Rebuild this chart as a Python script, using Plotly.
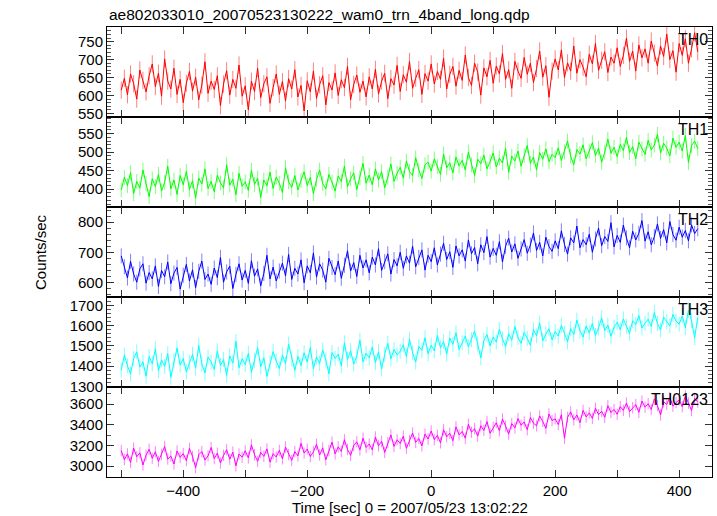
import plotly.graph_objects as go
from plotly.subplots import make_subplots

# ---- data (counts/sec, 5 s bins starting at t = -500 s) ----
t_start = -500
t_step = 5

th0 = [615, 648, 602, 660, 633, 590, 671, 642, 610, 655,
       688, 625, 662, 598, 702, 640, 618, 676, 603, 645,
       580, 634, 667, 612, 651, 588, 629, 694, 606, 640,
       617, 655, 572, 632, 669, 601, 645, 620, 685, 598,
       627, 560, 640, 611, 676, 594, 633, 652, 578, 622,
       660, 603, 639, 585, 647, 618, 672, 596, 628, 557,
       641, 610, 668, 592, 630, 655, 574, 636, 615, 663,
       600, 644, 622, 681, 588, 631, 657, 609, 640, 596,
       652, 618, 673, 604, 640, 662, 591, 647, 629, 684,
       611, 658, 637, 695, 620, 648, 672, 603, 661, 640,
       688, 632, 667, 645, 704, 618, 659, 681, 626, 670,
       642, 713, 650, 628, 690, 665, 601, 677, 652, 698,
       634, 682, 660, 717, 645, 672, 620, 695, 668, 648,
       706, 659, 690, 636, 675, 724, 651, 683, 595, 668,
       702, 671, 727, 650, 691, 668, 738, 662, 700, 679,
       652, 715, 688, 745, 670, 698, 722, 664, 707, 690,
       733, 681, 712, 760, 695, 724, 668, 741, 705, 730,
       690, 752, 718, 682, 738, 709, 771, 700, 725, 665,
       745, 712, 758, 690, 730, 775, 722]

th1 = [398, 432, 410, 445, 388, 421, 403, 452, 415, 380,
       428, 407, 440, 395, 419, 462, 401, 425, 386, 437,
       412, 448, 399, 423, 376, 430, 414, 455, 402, 421,
       393, 438, 417, 404, 466, 411, 427, 385, 443, 408,
       420, 397, 451, 413, 430, 378, 425, 409, 446, 402,
       433, 416, 391, 458, 420, 405, 437, 398, 424, 447,
       410, 432, 388, 426, 452, 415, 401, 440, 419, 395,
       436, 421, 462, 407, 428, 444, 399, 431, 470, 416,
       438, 412, 455, 425, 447, 404, 432, 468, 421, 443,
       459, 430, 476, 448, 437, 485, 452, 429, 466, 473,
       449, 482, 461, 440, 495, 458, 471, 444, 487, 463,
       478, 452, 500, 466, 437, 481, 469, 492, 455, 474,
       498, 460, 484, 471, 510, 446, 489, 476, 503, 462,
       491, 518, 470, 487, 452, 499, 481, 509, 474, 494,
       485, 512, 477, 501, 530, 489, 466, 507, 495, 520,
       482, 503, 526, 491, 511, 473, 500, 535, 497, 513,
       488, 521, 504, 540, 499, 515, 482, 527, 509, 494,
       532, 506, 519, 548, 498, 524, 511, 490, 538, 513,
       527, 503, 545, 472, 518, 530, 510]

th2 = [688, 652, 615, 670, 628, 601, 645, 662, 598, 633,
       612, 655, 587, 640, 619, 668, 596, 631, 650, 578,
       624, 660, 605, 642, 583, 637, 671, 610, 628, 594,
       648, 616, 683, 601, 635, 654, 580, 627, 662, 608,
       640, 597, 672, 621, 645, 589, 630, 690, 612, 651,
       605, 638, 664, 622, 693, 610, 647, 628, 675, 599,
       655, 632, 698, 618, 662, 641, 601, 680, 650, 626,
       671, 614, 657, 705, 638, 666, 620, 690, 648, 675,
       632, 684, 658, 712, 640, 669, 695, 628, 676, 655,
       700, 647, 688, 664, 720, 652, 683, 708, 641, 690,
       669, 715, 658, 694, 730, 676, 702, 650, 721, 688,
       708, 671, 741, 695, 716, 662, 725, 699, 752, 684,
       713, 690, 735, 668, 720, 747, 701, 728, 680, 711,
       742, 697, 724, 764, 706, 733, 688, 750, 719, 703,
       738, 712, 771, 726, 694, 748, 731, 787, 715, 742,
       725, 760, 700, 744, 780, 722, 752, 736, 798, 718,
       756, 733, 790, 748, 715, 770, 741, 763, 805, 737,
       768, 725, 752, 794, 746, 775, 731, 802, 759, 740,
       783, 750, 772, 738, 791, 762, 778]

th3 = [1380, 1455, 1402, 1361, 1438, 1470, 1395, 1421, 1350, 1447,
       1412, 1485, 1378, 1430, 1398, 1462, 1345, 1425, 1490, 1405,
       1437, 1372, 1418, 1458, 1390, 1502, 1411, 1366, 1445, 1420,
       1384, 1476, 1403, 1432, 1355, 1450, 1415, 1522, 1392, 1436,
       1408, 1463, 1370, 1428, 1491, 1397, 1441, 1349, 1417, 1472,
       1426, 1388, 1455, 1412, 1508, 1435, 1379, 1448, 1403, 1466,
       1420, 1492, 1386, 1445, 1413, 1480, 1431, 1362, 1467, 1438,
       1459, 1402, 1515, 1433, 1476, 1410, 1450, 1528, 1421, 1463,
       1441, 1494, 1417, 1470, 1386, 1458, 1512, 1436, 1482, 1455,
       1473, 1505, 1448, 1532, 1466, 1420, 1497, 1478, 1540, 1461,
       1503, 1476, 1552, 1490, 1521, 1459, 1538, 1507, 1565, 1482,
       1516, 1548, 1495, 1531, 1573, 1509, 1440, 1527, 1556, 1500,
       1544, 1519, 1582, 1535, 1496, 1560, 1528, 1595, 1541, 1512,
       1566, 1537, 1503, 1580, 1549, 1612, 1525, 1558, 1584, 1530,
       1571, 1548, 1601, 1562, 1520, 1585, 1556, 1627, 1574, 1543,
       1598, 1564, 1610, 1551, 1589, 1638, 1575, 1602, 1547, 1592,
       1616, 1580, 1633, 1597, 1562, 1624, 1605, 1650, 1588, 1612,
       1631, 1596, 1664, 1610, 1578, 1641, 1620, 1598, 1655, 1622,
       1607, 1648, 1590, 1676, 1625, 1540, 1640]

th0123 = [3150, 3062, 3118, 3035, 3174, 3090, 3128, 3010, 3105, 3162,
          3076, 3138, 3045, 3112, 3190, 3068, 3097, 3020, 3146, 3084,
          3121, 3052, 3170, 3093, 2985, 3110, 3140, 3058, 3099, 3180,
          3072, 3125, 3030, 3104, 3158, 3066, 3135, 3002, 3117, 3086,
          3148, 3079, 3205, 3110, 3046, 3132, 3094, 3167, 3038, 3120,
          3088, 3152, 3070, 3184, 3111, 3055, 3140, 3098, 3220, 3126,
          3165, 3092, 3138, 3210, 3107, 3176, 3060, 3150, 3232, 3118,
          3186, 3142, 3255, 3161, 3104, 3198, 3235, 3157, 3270, 3180,
          3214, 3158, 3281, 3196, 3240, 3132, 3226, 3302, 3190, 3255,
          3218, 3290, 3172, 3245, 3320, 3230, 3268, 3195, 3310, 3262,
          3340, 3256, 3298, 3225, 3352, 3284, 3318, 3246, 3380, 3302,
          3335, 3270, 3405, 3328, 3362, 3290, 3390, 3345, 3432, 3318,
          3376, 3420, 3342, 3455, 3388, 3310, 3412, 3370, 3460, 3395,
          3428, 3352, 3470, 3415, 3390, 3486, 3432, 3365, 3505, 3441,
          3458, 3402, 3498, 3270, 3472, 3525, 3448, 3495, 3420, 3540,
          3476, 3515, 3462, 3560, 3498, 3530, 3472, 3585, 3519, 3548,
          3502, 3576, 3540, 3610, 3528, 3565, 3595, 3520, 3630, 3571,
          3604, 3548, 3650, 3586, 3495, 3622, 3598, 3665, 3580, 3615,
          3640, 3575, 3680, 3610, 3538, 3655, 3620]

band_names = ["TH0", "TH1", "TH2", "TH3", "TH0123"]
band_errors = [24, 20, 25, 37, 55]

x_tick_vals = [-500, -400, -300, -200, -100, 0, 100, 200, 300, 400]
x_tick_text = ["", "\u2212400", "", "\u2212200", "", "0", "", "200", "", "400"]

title_text = "ae802033010_20070523130222_wam0_trn_4band_long.qdp"
x_title = "Time [sec] 0 = 2007/05/23 13:02:22"
y_title = "Counts/sec"

# ---- styling ----
series = [th0, th1, th2, th3, th0123]
colors = ["#ff0000", "#00ff00", "#0000ff", "#00ffff", "#ff00ff"]
err_colors = ["rgba(255,0,0,0.5)", "rgba(0,255,0,0.5)", "rgba(0,0,255,0.5)",
              "rgba(0,255,255,0.5)", "rgba(255,0,255,0.5)"]
y_ranges = [[540, 791], [352, 595], [552, 850], [1297, 1741], [2894, 3766]]
y_dticks = [50, 50, 100, 100, 200]
y_minor = [10, 10, 20, 20, 100]

FONT = "Liberation Sans, Arial, Helvetica, sans-serif"

fig = make_subplots(rows=5, cols=1, shared_xaxes=True, vertical_spacing=0)

for i, (vals, name) in enumerate(zip(series, band_names)):
    times = [t_start + k * t_step for k in range(len(vals))]
    fig.add_trace(go.Scatter(
        x=times, y=vals, mode="lines", name=name,
        line=dict(color=colors[i], width=1),
        error_y=dict(type="constant", value=band_errors[i], color=err_colors[i],
                     thickness=1, width=0),
        showlegend=False,
    ), row=i + 1, col=1)
    fig.add_annotation(
        text=name, xref="x domain" if i == 0 else f"x{i+1} domain",
        yref="y domain" if i == 0 else f"y{i+1} domain",
        x=0.997, y=0.98, xanchor="right", yanchor="top", showarrow=False,
        font=dict(family=FONT, size=16, color="black"),
    )
    fig.update_yaxes(
        range=y_ranges[i], dtick=y_dticks[i], tick0=0,
        ticks="inside", ticklen=7, tickwidth=1, tickcolor="#333",
        minor=dict(dtick=y_minor[i], ticks="inside", ticklen=4, tickwidth=1, tickcolor="#555"),
        showline=True, linecolor="black", linewidth=1, mirror="ticks",
        showgrid=False, zeroline=False,
        tickfont=dict(family=FONT, size=15, color="black"),
        row=i + 1, col=1,
    )
    fig.update_xaxes(
        range=[-523, 453], tickvals=x_tick_vals, ticktext=x_tick_text,
        ticks="inside", ticklen=7, tickwidth=1, tickcolor="#333",
        showline=True, linecolor="black", linewidth=1, mirror="ticks",
        showgrid=False, zeroline=False,
        tickfont=dict(family=FONT, size=15, color="black"),
        row=i + 1, col=1,
    )

fig.add_annotation(text=title_text, xref="paper", yref="paper", x=0, y=1,
                   xanchor="left", yanchor="middle", yshift=13, showarrow=False,
                   font=dict(family=FONT, size=15.5, color="black"))
fig.add_annotation(text=x_title, xref="paper", yref="paper", x=0.5, y=0,
                   xanchor="center", yanchor="middle", yshift=-30, showarrow=False,
                   font=dict(family=FONT, size=15, color="black"))
fig.add_annotation(text=y_title, xref="paper", yref="paper", x=0, y=0.5,
                   xanchor="center", yanchor="middle", xshift=-67, textangle=-90,
                   showarrow=False, font=dict(family=FONT, size=15, color="black"))

fig.update_layout(
    width=717, height=516,
    margin=dict(l=107, r=5, t=27, b=39),
    paper_bgcolor="white", plot_bgcolor="white",
    font=dict(family=FONT, size=15, color="black"),
)

# remove the default page margin / scrollbars so the figure fills the window
fig.write_html(
    "out.html",
    config={"displayModeBar": False},
    post_script="document.body.style.margin='0';document.body.style.overflow='hidden';",
)
